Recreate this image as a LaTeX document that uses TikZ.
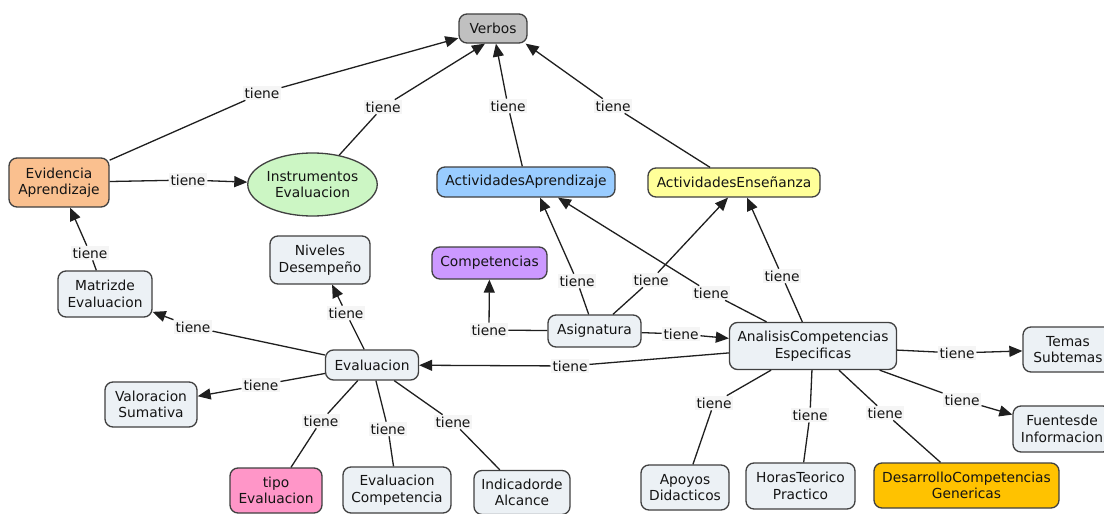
\documentclass[tikz,border=0pt]{standalone}
\usepackage{fontspec}
\setmainfont{DejaVu Sans}
\usetikzlibrary{arrows.meta,shapes.geometric,calc}

\definecolor{cfill}{RGB}{236,241,245}
\definecolor{cgray}{RGB}{192,192,192}
\definecolor{corange}{RGB}{250,192,143}
\definecolor{cgreen}{RGB}{204,246,196}
\definecolor{cblue}{RGB}{153,204,255}
\definecolor{cyellow}{RGB}{255,255,153}
\definecolor{cpurple}{RGB}{204,153,255}
\definecolor{cpink}{RGB}{255,150,200}
\definecolor{cgold}{RGB}{255,194,0}

\begin{document}
\begin{tikzpicture}[x=0.5pt,y=-0.5pt,
  concept/.style={draw=black!75, line width=0.65pt, rounded corners=4pt, fill=cfill,
    align=center, inner sep=0pt, text=black!92, font=\fontsize{6.9}{8.3}\selectfont},
  sz/.style 2 args={minimum width=#1, minimum height=#2},
  lab/.style={fill=black!4, inner sep=0.8pt, text=black!92, font=\fontsize{6.9}{8.3}\selectfont},
  link/.style={draw=black!88, line width=0.65pt},
  arr/.style={link, -{Triangle[length=6.5pt,width=5.5pt]}}]

\fill[white] (0,0) rectangle (1104,514);
\useasboundingbox (0,0) rectangle (1104,514);

% concepts
\node[concept, sz={34pt}{14.5pt}, fill=cgray] (verbos) at (493,28.5) {Verbos};
\node[concept, sz={50pt}{24.5pt}, fill=corange] (evid) at (59,182.5) {Evidencia\\Aprendizaje};
\node[concept, ellipse, rounded corners=0pt, sz={60.5pt}{31.5pt}, fill=cgreen] (instr) at (312.5,184.5) {Instrumentos\\Evaluacion};
\node[concept, sz={89pt}{15pt}, fill=cblue] (actap) at (526,182) {ActividadesAprendizaje};
\node[concept, sz={86pt}{14.5pt}, fill=cyellow] (actens) at (734,182.5) {ActividadesEnseñanza};
\node[concept, sz={50pt}{24pt}] (niveles) at (320,260) {Niveles\\Desempeño};
\node[concept, sz={57.5pt}{16pt}, fill=cpurple] (compet) at (489.5,263) {Competencias};
\node[concept, sz={47pt}{23pt}] (matriz) at (105,294) {Matrizde\\Evaluacion};
\node[concept, sz={46.5pt}{16pt}] (asig) at (594.5,331) {Asignatura};
\node[concept, sz={83.5pt}{23.5pt}] (analisis) at (813,346) {AnalisisCompetencias\\Especificas};
\node[concept, sz={45pt}{22.5pt}] (temas) at (1068,349.5) {Temas\\Subtemas};
\node[concept, sz={46.5pt}{15pt}] (eval) at (372,365) {Evaluacion};
\node[concept, sz={46pt}{22.5pt}] (valor) at (151,404.5) {Valoracion\\Sumativa};
\node[concept, sz={49pt}{23pt}] (fuentes) at (1062,429) {Fuentesde\\Informacion};
\node[concept, sz={46pt}{22.5pt}, fill=cpink] (tipo) at (276,490.5) {tipo\\Evaluacion};
\node[concept, sz={54pt}{23pt}] (evalcomp) at (397,490) {Evaluacion\\Competencia};
\node[concept, sz={48pt}{22pt}] (indic) at (522,492.5) {Indicadorde\\Alcance};
\node[concept, sz={44pt}{22.5pt}] (apoyos) at (685,487.5) {Apoyos\\Didacticos};
\node[concept, sz={54.5pt}{23pt}] (horas) at (800.5,486) {HorasTeorico\\Practico};
\node[concept, sz={92.5pt}{22.5pt}, fill=cgold] (desarr) at (966.5,485.5) {DesarrolloCompetencias\\Genericas};

% linking phrases
\node[lab] (l1) at (262,93) {tiene};
\node[lab] (l2) at (383,107) {tiene};
\node[lab] (l3) at (188,180) {tiene};
\node[lab] (l4) at (508,106) {tiene};
\node[lab] (l5) at (613,106) {tiene};
\node[lab] (l6) at (90,253) {tiene};
\node[lab] (l7) at (193,327) {tiene};
\node[lab] (l8) at (346,313) {tiene};
\node[lab] (l9) at (489,330) {tiene};
\node[lab] (l10) at (577,281) {tiene};
\node[lab] (l11) at (651,280) {tiene};
\node[lab] (l12) at (711,293) {tiene};
\node[lab] (l13) at (782,276) {tiene};
\node[lab] (l14) at (681,334) {tiene};
\node[lab] (l15) at (570,366) {tiene};
\node[lab] (l16) at (957,353) {tiene};
\node[lab] (l17) at (962,400) {tiene};
\node[lab] (l18) at (261,385) {tiene};
\node[lab] (l19) at (321,421) {tiene};
\node[lab] (l20) at (388,429) {tiene};
\node[lab] (l21) at (453,422) {tiene};
\node[lab] (l22) at (714,403) {tiene};
\node[lab] (l23) at (810,415) {tiene};
\node[lab] (l24) at (885,413) {tiene};

% links into Verbos
\draw[link] (evid) -- (l1);
\draw[arr] (l1) -- (verbos);
\draw[link] (instr) -- (l2);
\draw[arr] (l2) -- ($(verbos.south)+(-8,0)$);
\draw[link] (actap) -- (l4);
\draw[arr] (l4) -- (verbos);
\draw[link] (actens) -- (l5);
\draw[arr] (l5) -- ($(verbos.south east)+(-2,0)$);

% Evidencia and Matriz
\draw[link] (evid) -- (l3);
\draw[arr] (l3) -- (instr);
\draw[link] (matriz) -- (l6);
\draw[arr] (l6) -- (evid);

% Asignatura
\draw[link] (asig) -- (l9);
\draw[arr] (l9) -- (compet);
\draw[link] (asig) -- (l10);
\draw[arr] (l10) -- ($(actap.south)+(14,0)$);
\draw[link] (asig) -- (l11);
\draw[arr] (l11) -- ($(actens.south)+(-6,0)$);
\draw[link] (asig) -- (l14);
\draw[arr] (l14) -- (analisis);

% AnalisisCompetencias Especificas
\draw[link] (analisis) -- (l12);
\draw[arr] (l12) -- ($(actap.south)+(32,0)$);
\draw[link] (analisis) -- (l13);
\draw[arr] (l13) -- ($(actens.south)+(13,0)$);
\draw[link] (analisis) -- (l15);
\draw[arr] (l15) -- (eval);
\draw[link] (analisis) -- (l16);
\draw[arr] (l16) -- (temas);
\draw[link] (analisis) -- (l17);
\draw[arr] (l17) -- (fuentes);
\draw[link] (analisis) -- (l22);
\draw[link] (l22) -- (apoyos);
\draw[link] (analisis) -- (l23);
\draw[link] (l23) -- (horas);
\draw[link] (analisis) -- (l24);
\draw[link] (l24) -- (desarr);

% Evaluacion
\draw[link] (eval) -- (l7);
\draw[arr] (l7) -- (matriz);
\draw[link] (eval) -- (l8);
\draw[arr] (l8) -- (niveles);
\draw[link] (eval) -- (l18);
\draw[arr] (l18) -- (valor);
\draw[link] (eval) -- (l19);
\draw[link] (l19) -- (tipo);
\draw[link] (eval) -- (l20);
\draw[link] (l20) -- (evalcomp);
\draw[link] (eval) -- (l21);
\draw[link] (l21) -- (indic);
\end{tikzpicture}
\end{document}
